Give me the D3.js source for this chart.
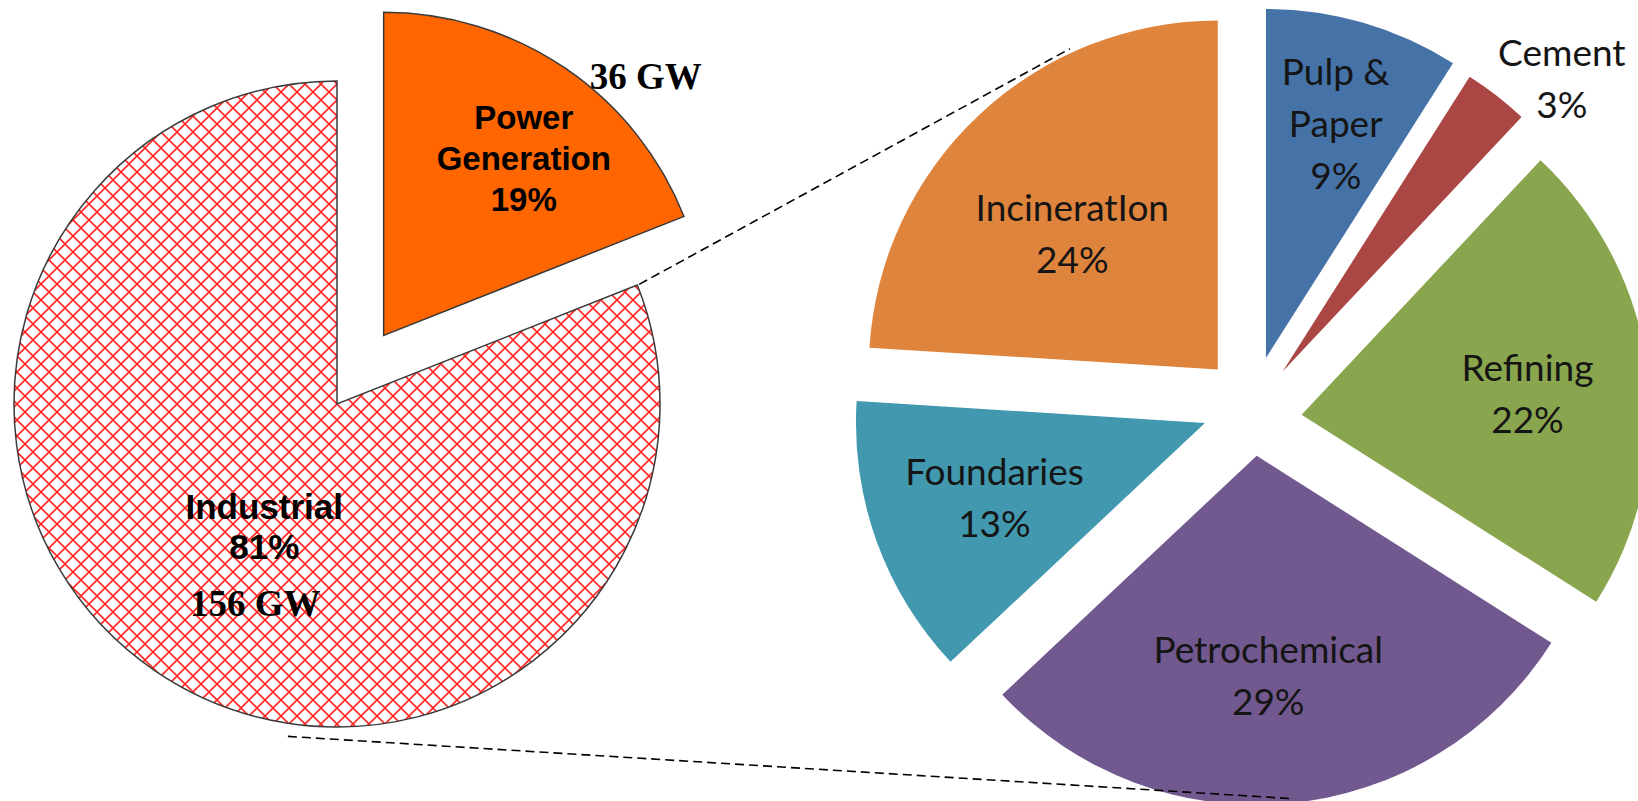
<!DOCTYPE html>
<html>
<head>
<meta charset="utf-8">
<script src="https://cdn.jsdelivr.net/npm/d3@7"></script>
<style>
  html, body { margin: 0; padding: 0; background: #fff; }
  svg { display: block; }
</style>
</head>
<body>
<script>
// left pie: total split
var leftCats = ['Power Generation', 'Industrial'];
var leftPct = [19, 81];
var leftGW = [36, 156];

// right pie: breakdown of industrial
var rightCats = ['Pulp & Paper', 'Cement', 'Refining', 'Petrochemical', 'Foundaries', 'IncineratIon'];
var rightPct = [9, 3, 22, 29, 13, 24];
var rightColors = ['#4572A7', '#AA4643', '#89A54E', '#71588F', '#4198AF', '#DF843C'];

var W = 1638, H = 801;
var svg = d3.select('body').append('svg').attr('width', W).attr('height', H);

// red diamond hatch for the industrial slice
var hs = 16;
var pat = svg.append('defs').append('pattern').attr('id', 'hatch')
  .attr('width', hs).attr('height', hs).attr('patternUnits', 'userSpaceOnUse');
pat.append('rect').attr('width', hs).attr('height', hs).attr('fill', '#fff');
pat.append('path').attr('d', 'M0,0L' + hs + ',' + hs + 'M' + hs + ',0L0,' + hs)
  .attr('stroke', '#ff2626').attr('stroke-width', 1.6).attr('fill', 'none');

var deg = Math.PI / 180;
function polar(c, r, a) { return [c[0] + r * Math.sin(a), c[1] - r * Math.cos(a)]; }
function mid(d) { return (d.startAngle + d.endAngle) / 2; }

var pie = d3.pie().sort(null).value(function(d){ return d.v; });

// ---- left pie
var L = { c: [337, 404], r: 323, explode: [83, 0] };
var leftData = pie(leftCats.map(function(k, i){ return { k: k, v: leftPct[i], gw: leftGW[i], i: i }; }));
var leftArc = d3.arc().innerRadius(0).outerRadius(L.r);

var lg = svg.append('g').attr('transform', 'translate(' + L.c + ')');
lg.selectAll('path.slice').data(leftData).enter().append('path')
  .attr('class', 'slice')
  .attr('d', leftArc)
  .attr('fill', function(d){ return d.index === 0 ? '#FF6600' : 'url(#hatch)'; })
  .attr('stroke', '#3a3a3a').attr('stroke-width', 1.5)
  .attr('transform', function(d){
    var p = polar([0, 0], L.explode[d.index], mid(d));
    return 'translate(' + p + ')';
  });

// label anchors: [fraction of radius, angle deg] from the slice tip
var leftLab = [[0.70, 38.3], [0.44, 210.8]];
var leftGWLab = [[1.14, 45.4], [0.44, 210.8]];

leftData.forEach(function(d){
  var tip = polar([0, 0], L.explode[d.index], mid(d));
  var a = leftLab[d.index];
  var p = polar(tip, a[0] * L.r, a[1] * deg);
  var lines = d.index === 0 ? ['Power', 'Generation', leftPct[0] + '%'] : ['Industrial', leftPct[1] + '%'];
  var fs = d.index === 0 ? 33 : 35, lh = d.index === 0 ? 41 : 40;
  var t = lg.append('text').attr('text-anchor', 'middle')
    .style('font-family', '"Liberation Sans", Arial, sans-serif')
    .style('font-weight', 'bold').style('font-size', fs + 'px').attr('fill', '#000');
  lines.forEach(function(s, j){
    t.append('tspan').attr('x', p[0])
      .attr('y', p[1] + (j - (lines.length - 1) / 2) * lh + fs * 0.36).text(s);
  });
  // GW figure
  var g = leftGWLab[d.index];
  var q = polar(tip, g[0] * L.r, g[1] * deg);
  var gt = lg.append('text')
    .style('font-family', '"Liberation Serif", "Times New Roman", serif')
    .style('font-weight', 'bold').style('font-size', '37px').attr('fill', '#000')
    .attr('text-anchor', 'middle')
    .text(d.data.gw + ' GW');
  if (d.index === 0) gt.attr('x', q[0]).attr('y', q[1] + 12);
  else gt.attr('x', q[0] - 9).attr('y', q[1] + 90);
});

// ---- right pie
var R = { c: [1252, 406], r: 349, explode: 50 };
// the refining wedge sits a little lower in the original drawing
var nudge = { 'Refining': [0, 15], 'Cement': [0, 5] };
var rightData = pie(rightCats.map(function(k, i){ return { k: k, v: rightPct[i] }; }));
var rightArc = d3.arc().innerRadius(0).outerRadius(R.r);
var rightLab = [[0.70, 16.6], [1.16, 43.6], [0.65, 84.7], [0.63, 177], [0.64, 250.5], [0.57, 313]];

function tipOf(d) {
  var p = polar([0, 0], R.explode, mid(d));
  var n = nudge[d.data.k] || [0, 0];
  return [p[0] + n[0], p[1] + n[1]];
}

var rg = svg.append('g').attr('transform', 'translate(' + R.c + ')');
rg.selectAll('path.slice').data(rightData).enter().append('path')
  .attr('class', 'slice')
  .attr('d', rightArc)
  .attr('fill', function(d){ return rightColors[d.index]; })
  .attr('transform', function(d){ return 'translate(' + tipOf(d) + ')'; });

rightData.forEach(function(d){
  var tip = tipOf(d);
  var a = rightLab[d.index];
  var p = polar(tip, a[0] * R.r, a[1] * deg);
  var name = d.data.k;
  var lines = name === 'Pulp & Paper' ? ['Pulp &', 'Paper'] : [name];
  lines.push(d.data.v + '%');
  var fs = 37, lh = 52;
  var t = rg.append('text').attr('text-anchor', 'middle')
    .style('font-family', 'Lato, "Open Sans", sans-serif')
    .style('font-size', fs + 'px').attr('fill', '#151515');
  lines.forEach(function(s, j){
    t.append('tspan').attr('x', p[0])
      .attr('y', p[1] + (j - (lines.length - 1) / 2) * lh + fs * 0.36).text(s);
  });
});

// dashed connectors between the pies
var links = [
  [polar(L.c, L.r + 2, 68.4 * deg), polar(R.c, 401, 333 * deg)],
  [polar(L.c, L.r + 13, 188.4 * deg), polar(R.c, 395, 173.9 * deg)]
];
svg.selectAll('line.link').data(links).enter().append('line')
  .attr('class', 'link')
  .attr('x1', function(d){ return d[0][0]; }).attr('y1', function(d){ return d[0][1]; })
  .attr('x2', function(d){ return d[1][0]; }).attr('y2', function(d){ return d[1][1]; })
  .attr('stroke', '#000').attr('stroke-width', 1.6).attr('stroke-dasharray', '9,5');
</script>
</body>
</html>
